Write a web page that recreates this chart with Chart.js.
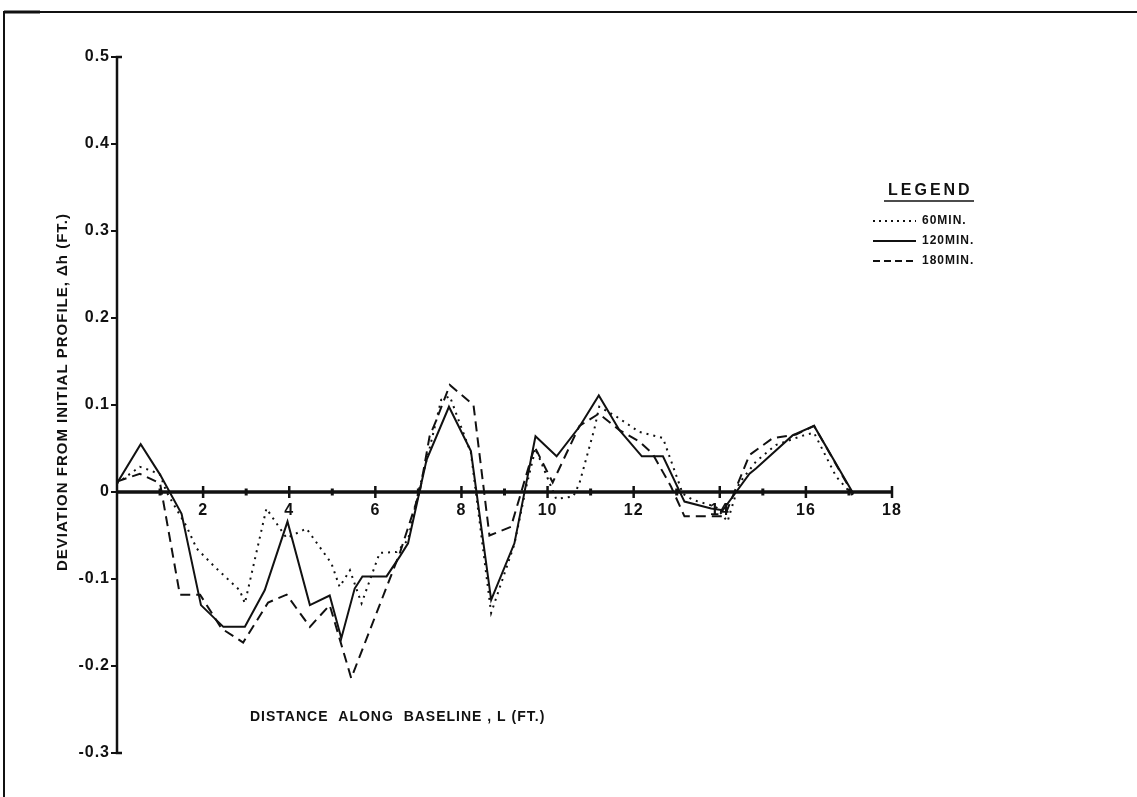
<!DOCTYPE html>
<html>
<head>
<meta charset="utf-8">
<script src="https://cdn.jsdelivr.net/npm/chart.js@4/dist/chart.umd.min.js"></script>
<style>
  html, body { margin: 0; padding: 0; background: #fff; }
  #wrap { width: 1137px; height: 797px; position: relative; }
  canvas { display: block; }
</style>
</head>
<body>
<div id="wrap"><canvas id="c" width="1137" height="797"></canvas></div>
<script>
// Distance along baseline L (ft) and deviation from initial profile Δh (ft)
const dist60 = [0, 0.53, 0.77, 1.0, 1.15, 1.62, 1.85, 2.27, 2.85, 2.97, 3.47, 3.94, 4.4, 4.98, 5.17, 5.41, 5.68, 6.1, 6.49, 6.76, 7.0, 7.26, 7.53, 7.73, 7.96, 8.22, 8.69, 9.23, 9.5, 9.72, 10.05, 10.2, 10.6, 10.74, 11.09, 11.2, 11.59, 12.13, 12.68, 13.14, 13.37, 13.91, 14.18, 14.45, 14.84, 15.3, 16.0, 16.19, 16.7, 17.16];
const dev60  = [0.01, 0.029, 0.025, 0.02, 0.0, -0.04, -0.065, -0.086, -0.113, -0.128, -0.019, -0.053, -0.042, -0.082, -0.109, -0.09, -0.128, -0.07, -0.069, -0.055, 0.0, 0.05, 0.106, 0.11, 0.079, 0.045, -0.139, -0.06, 0.005, 0.05, 0.01, -0.008, -0.005, 0.01, 0.073, 0.098, 0.087, 0.069, 0.062, -0.002, -0.009, -0.017, -0.034, 0.01, 0.035, 0.054, 0.066, 0.068, 0.018, -0.008];

const dist120 = [0, 0.55, 1.0, 1.5, 1.95, 2.47, 2.97, 3.43, 3.96, 4.48, 4.94, 5.21, 5.52, 5.7, 6.26, 6.57, 6.76, 7.19, 7.71, 8.22, 8.69, 9.23, 9.72, 10.21, 10.74, 11.19, 11.67, 12.19, 12.68, 13.18, 13.8, 14.07, 14.69, 14.84, 15.69, 16.19, 17.08];
const dev120  = [0.01, 0.055, 0.02, -0.025, -0.13, -0.155, -0.155, -0.113, -0.034, -0.13, -0.119, -0.168, -0.111, -0.097, -0.097, -0.074, -0.059, 0.037, 0.098, 0.047, -0.124, -0.059, 0.064, 0.041, 0.075, 0.111, 0.071, 0.041, 0.041, -0.011, -0.019, -0.021, 0.021, 0.027, 0.065, 0.076, 0.0];

const dist180 = [0, 0.53, 1.0, 1.46, 1.93, 2.43, 2.93, 3.51, 3.94, 4.48, 4.94, 5.44, 6.57, 7.03, 7.26, 7.42, 7.73, 8.28, 8.65, 9.15, 9.7, 10.12, 10.74, 11.19, 11.67, 12.13, 12.44, 12.87, 13.18, 14.11, 14.69, 15.23, 15.77, 16.19, 17.1];
const dev180  = [0.012, 0.021, 0.01, -0.118, -0.118, -0.157, -0.173, -0.127, -0.118, -0.155, -0.13, -0.214, -0.07, 0.0, 0.064, 0.083, 0.123, 0.1, -0.05, -0.04, 0.052, 0.011, 0.076, 0.09, 0.071, 0.058, 0.044, 0.006, -0.028, -0.028, 0.0425, 0.062, 0.066, 0.076, -0.003];

const seriesNames = ['60MIN.', '120MIN.', '180MIN.'];
const xTickValues = [2, 4, 6, 8, 10, 12, 14, 16, 18];
const xTickLabels = ['2', '4', '6', '8', '10', '12', '14', '16', '18'];
const yTickValues = [0.5, 0.4, 0.3, 0.2, 0.1, 0, -0.1, -0.2, -0.3];
const yTickLabels = ['0.5', '0.4', '0.3', '0.2', '0.1', '0', '-0.1', '-0.2', '-0.3'];
const xTitle = 'DISTANCE  ALONG  BASELINE , L (FT.)';
const yTitle = 'DEVIATION FROM INITIAL PROFILE, \u0394h (FT.)';

const toPoints = (xs, ys) => xs.map((x, i) => ({ x: x, y: ys[i] }));

const INK = '#111';
const FONT = "'Liberation Sans', 'DejaVu Sans', sans-serif";

// Hand-lettered axes, ticks, frame and legend, placed with the chart's scales
const drafting = {
  id: 'drafting',
  beforeDatasetsDraw(chart) {
    const ctx = chart.ctx;
    const xs = chart.scales.x, ys = chart.scales.y;
    const x0 = xs.getPixelForValue(0), x18 = xs.getPixelForValue(18);
    const y0 = ys.getPixelForValue(0);
    const yTop = ys.getPixelForValue(0.5), yBot = ys.getPixelForValue(-0.3);
    ctx.save();
    ctx.strokeStyle = INK;
    ctx.lineCap = 'butt';

    // sheet border (top and left)
    ctx.lineWidth = 2;
    ctx.beginPath();
    ctx.moveTo(4, 797); ctx.lineTo(4, 12); ctx.lineTo(1137, 12);
    ctx.stroke();
    ctx.lineWidth = 3;
    ctx.beginPath(); ctx.moveTo(4, 12); ctx.lineTo(40, 12); ctx.stroke();

    // vertical axis with end serifs
    ctx.lineWidth = 2.5;
    ctx.beginPath();
    ctx.moveTo(x0 + 5, yTop); ctx.lineTo(x0, yTop); ctx.lineTo(x0, yBot); ctx.lineTo(x0 + 5, yBot);
    ctx.stroke();
    ctx.lineWidth = 2;
    yTickValues.forEach(v => {
      const py = ys.getPixelForValue(v);
      ctx.beginPath(); ctx.moveTo(x0 - 6, py); ctx.lineTo(x0, py); ctx.stroke();
    });

    // horizontal axis through zero
    ctx.lineWidth = 3.5;
    ctx.beginPath(); ctx.moveTo(x0, y0); ctx.lineTo(x18, y0); ctx.stroke();
    for (let v = 1; v <= 18; v++) {
      const px = xs.getPixelForValue(v);
      const major = v % 2 === 0;
      ctx.lineWidth = major ? 2.5 : 3;
      const h = major ? 6 : 3.5;
      ctx.beginPath(); ctx.moveTo(px, y0 - h); ctx.lineTo(px, y0 + h); ctx.stroke();
    }
    ctx.restore();
  },
  afterDraw(chart) {
    const ctx = chart.ctx;
    const xs = chart.scales.x, ys = chart.scales.y;
    const x0 = xs.getPixelForValue(0);
    const y0 = ys.getPixelForValue(0);
    ctx.save();
    ctx.fillStyle = INK;
    ctx.strokeStyle = INK;

    // tick labels
    ctx.font = 'bold 16px ' + FONT;
    ctx.letterSpacing = '1px';
    ctx.textBaseline = 'middle';
    ctx.textAlign = 'right';
    yTickValues.forEach((v, i) => {
      ctx.fillText(yTickLabels[i], x0 - 7, ys.getPixelForValue(v));
    });
    ctx.textAlign = 'center';
    xTickValues.forEach((v, i) => {
      ctx.fillText(xTickLabels[i], xs.getPixelForValue(v), y0 + 19);
    });

    // axis titles
    ctx.font = 'bold 14px ' + FONT;
    ctx.letterSpacing = '1px';
    ctx.textAlign = 'left';
    ctx.fillText(xTitle, 250, 717);
    ctx.save();
    ctx.translate(63, 392);
    ctx.rotate(-Math.PI / 2);
    ctx.textAlign = 'center';
    ctx.font = 'bold 15px ' + FONT;
    ctx.fillText(yTitle, 0, 0);
    ctx.restore();

    // legend
    ctx.font = 'bold 16px ' + FONT;
    ctx.letterSpacing = '3px';
    ctx.textAlign = 'left';
    ctx.fillText('LEGEND', 888, 191);
    ctx.lineWidth = 1.5;
    ctx.beginPath(); ctx.moveTo(884, 201); ctx.lineTo(974, 201); ctx.stroke();
    ctx.letterSpacing = '1px';
    ctx.font = 'bold 12px ' + FONT;
    const rows = [221, 241, 261];
    const dashes = [[2, 4], [], [7, 4]];
    rows.forEach((ry, i) => {
      ctx.save();
      ctx.lineWidth = 1.8;
      ctx.setLineDash(dashes[i]);
      ctx.beginPath(); ctx.moveTo(873, ry); ctx.lineTo(916, ry); ctx.stroke();
      ctx.restore();
      ctx.fillText(seriesNames[i], 922, ry);
    });
    ctx.restore();
  }
};

new Chart(document.getElementById('c'), {
  type: 'line',
  data: {
    datasets: [
      { label: seriesNames[0], data: toPoints(dist60, dev60), borderColor: INK, borderWidth: 2, borderDash: [2, 5], pointRadius: 0, tension: 0, fill: false },
      { label: seriesNames[1], data: toPoints(dist120, dev120), borderColor: INK, borderWidth: 2, pointRadius: 0, tension: 0, fill: false },
      { label: seriesNames[2], data: toPoints(dist180, dev180), borderColor: INK, borderWidth: 2, borderDash: [10, 6], pointRadius: 0, tension: 0, fill: false }
    ]
  },
  options: {
    responsive: false,
    animation: false,
    devicePixelRatio: 1,
    layout: { padding: { left: 117, right: 245, top: 57, bottom: 44 } },
    plugins: { legend: { display: false }, tooltip: { enabled: false } },
    scales: {
      x: { type: 'linear', min: 0, max: 18, display: false },
      y: { type: 'linear', min: -0.3, max: 0.5, display: false }
    }
  },
  plugins: [drafting]
});
</script>
</body>
</html>
